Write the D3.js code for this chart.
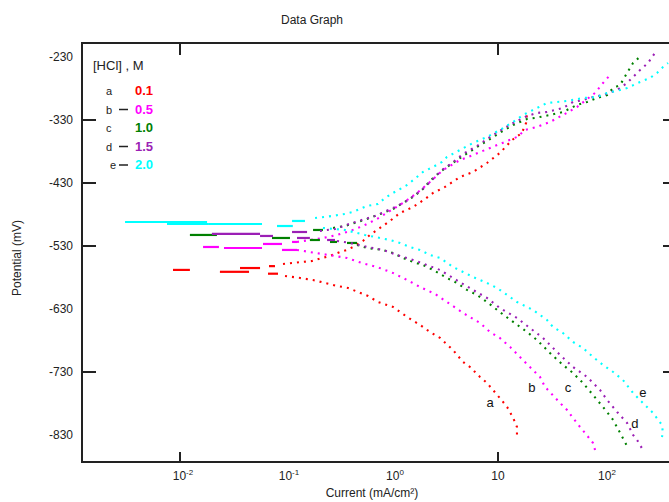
<!DOCTYPE html>
<html>
<head>
<meta charset="utf-8">
<script src="https://cdn.jsdelivr.net/npm/d3@7.9.0/dist/d3.min.js"></script>
<style>
  body { margin: 0; background: #fff; }
  svg { display: block; font-family: "Liberation Sans", Arial, sans-serif; }
</style>
</head>
<body>
<svg id="chart" width="669" height="502"></svg>
<script>
// ---- data: [current mA/cm2, potential mV] ----
// flat pieces near Ecorr: [i1, i2, E]
const aFlat = [[0.00859, 0.0124, -568], [0.0238, 0.0448, -571], [0.0368, 0.0569, -565], [0.0691, 0.0787, -562], [0.0676, 0.0841, -574]];
const aAnodic = [[0.0937, -558.6], [0.142, -555.4], [0.176, -553.8], [0.219, -549], [0.26, -545.9], [0.323, -539.5], [0.376, -536.3], [0.429, -531.6], [0.478, -526.8], [0.532, -522], [0.62, -512.5], [0.771, -501.4], [0.957, -490.3], [1.19, -477.6], [1.58, -468.1], [2.05, -455.4], [2.44, -445.9], [3.16, -436.3], [4.38, -420.5], [5.81, -412.5], [7.87, -398.3], [10.4, -382.4], [13.6, -361.7], [16.8, -350.6], [18.4, -334.8], [18.8, -318.9]];
const aCathodic = [[0.0979, -577.6], [0.136, -580.8], [0.18, -584], [0.233, -588.7], [0.303, -593.4], [0.385, -596.7], [0.478, -603], [0.594, -609.4], [0.738, -618.9], [1.022, -626.8], [1.39, -642.7], [1.84, -655.4], [2.28, -666.5], [2.84, -676], [3.76, -695.1], [4.68, -714.1], [5.44, -722.1], [6.76, -737.9], [7.87, -747.5], [8.97, -758.6], [10.4, -771.3], [12.2, -785.6], [13.9, -803], [15.1, -817.3], [15.1, -830]];

const bFlat = [[0.0165, 0.0233, -531.6], [0.026, 0.0594, -533.2], [0.0607, 0.0917, -526.8], [0.0917, 0.127, -536.3], [0.114, 0.127, -523.6]];
const bAnodic = [[0.127, -523.6], [0.168, -520.5], [0.223, -517.3], [0.303, -512.5], [0.402, -506.2], [0.532, -498.3], [0.722, -487.1], [0.957, -474.4], [1.27, -461.7], [1.72, -445.9], [2.28, -428.4], [3.03, -409.4], [4.38, -393.5], [5.81, -385.6], [8.41, -374.4], [11.6, -364.9], [15.1, -357], [18.0, -345.9], [23.3, -341.1], [30.9, -333.2], [41.0, -322.1], [55.6, -309.4], [82.3, -287.1], [97.9, -271.3], [114, -258.6]];
const bCathodic = [[0.127, -536.3], [0.219, -542.7], [0.376, -549], [0.521, -557], [0.722, -563.3], [1.022, -572.9], [1.39, -584], [1.84, -595.1], [2.55, -606.2], [3.52, -622.1], [4.68, -636.3], [6.76, -652.2], [8.41, -666.5], [10.4, -676], [13.0, -690.3], [16.1, -706.2], [20.0, -722.1], [24.9, -737.9], [27.8, -753.8], [38.5, -779.2], [44.8, -790.3], [51.0, -803], [59.4, -817.3], [66.2, -826.8], [78.8, -842.7], [82.3, -853.8]];

const cFlat = [[0.0124, 0.0223, -512.5], [0.0738, 0.109, -517.3], [0.168, 0.209, -520.5], [0.18, 0.223, -504.6], [0.26, 0.303, -523.6], [0.376, 0.468, -525.2]];
const cAnodic = [[0.278, -501.4], [0.36, -498.3], [0.581, -487.1], [0.822, -477.6], [1.022, -471.3], [1.27, -461.7], [1.58, -452.2], [1.96, -439.5], [2.28, -426.8], [2.84, -412.5], [3.52, -401.4], [4.68, -387.1], [6.34, -372.9], [8.41, -360.2], [11.1, -347.5], [14.5, -336.4], [18.8, -328.4], [22.3, -326.8], [30.9, -322.1], [41.0, -317.3], [55.6, -306.2], [69.2, -301.4], [85.9, -295.1], [107, -290.3], [122, -279.2], [142, -274.4], [165, -255.4], [188, -239.5], [228, -226.8]];
const cCathodic = [[0.468, -528.4], [0.581, -533.2], [0.822, -536.3], [1.022, -541.1], [1.27, -549], [1.58, -555.4], [1.96, -560.2], [2.44, -568.1], [3.3, -580.8], [4.1, -588.7], [5.1, -599.8], [6.34, -607.8], [7.87, -618.9], [10.4, -634.8], [13.9, -650.6], [18.8, -666.5], [23.3, -679.2], [30.9, -699.8], [41.0, -718.9], [51.0, -731.6], [63.4, -747.5], [78.8, -766.5], [97.9, -785.6], [122, -806.2], [142, -826.8], [165, -847.5]];

const dFlat = [[0.02, 0.0569, -510.9], [0.0569, 0.0754, -514.1], [0.114, 0.158, -507.8], [0.127, 0.168, -517.3], [0.244, 0.29, -520.5]];
const dAnodic = [[0.209, -506.2], [0.29, -503], [0.42, -493.5], [0.691, -482.4], [1.022, -469.7], [1.33, -460.1], [1.65, -449.1], [2.05, -436.3], [2.44, -423.7], [2.96, -409.4], [3.68, -398.3], [4.68, -384], [6.34, -371.3], [8.41, -357], [11.1, -344.3], [14.5, -333.2], [18.8, -323.7], [23.3, -318.9], [29.0, -317.3], [41.0, -311], [51.0, -301.4], [63.4, -298.3], [78.8, -293.5], [97.9, -290.3], [133, -282.4], [165, -271.3], [188, -261.7], [219, -250.6], [260, -239.5], [316, -218.9]];
const dCathodic = [[0.303, -522], [0.402, -525.2], [0.581, -531.6], [0.822, -536.3], [1.115, -544.3], [1.58, -552.2], [2.14, -560.2], [2.84, -568.1], [3.76, -580.8], [5.81, -599.8], [7.87, -612.5], [10.4, -628.4], [15.1, -644.3], [20.0, -660.2], [26.6, -676], [38.5, -703], [51.0, -722.1], [69.2, -737.9], [91.7, -758.6], [107, -774.4], [133, -793.5], [165, -810.9], [188, -830], [205, -837.9], [233, -853.8]];

const eFlat = [[0.00303, 0.018, -491.9], [0.00754, 0.0184, -495.1], [0.0184, 0.0594, -495.1], [0.0822, 0.116, -498.3], [0.114, 0.151, -490.3]];
const eAnodic = [[0.188, -485.6], [0.272, -482.4], [0.36, -479.2], [0.429, -476], [0.581, -466.5], [0.738, -463.3], [0.859, -453.8], [1.022, -445.9], [1.39, -433.2], [1.72, -420.5], [1.96, -412.5], [2.44, -404.6], [2.96, -396.7], [3.3, -388.7], [4.38, -377.6], [5.81, -366.5], [7.87, -357], [10.4, -345.9], [13.9, -333.2], [17.2, -322.1], [21.4, -314.1], [29.0, -303], [36.0, -301.4], [44.8, -299.8], [63.4, -295.1], [85.9, -293.5], [107, -287.1], [142, -282.4], [165, -279.2], [219, -269.7], [272, -263.3], [316, -255.4], [360, -245.9], [402, -239.5]];
const eCathodic = [[0.223, -501.4], [0.36, -504.6], [0.556, -512.5], [0.771, -517.3], [0.957, -520.5], [1.19, -525.2], [1.48, -531.6], [1.84, -536.3], [2.28, -544.3], [2.84, -549], [3.76, -563.3], [4.68, -571.3], [5.81, -579.2], [7.87, -588.7], [9.79, -596.7], [12.2, -607.8], [15.1, -618.9], [18.8, -626.8], [21.4, -631.6], [29.0, -647.5], [33.0, -658.6], [41.0, -668.1], [51.0, -682.4], [63.4, -691.9], [78.8, -706.2], [97.9, -718.9], [122, -730], [151, -742.7], [188, -763.3], [233, -779.2], [290, -795.1], [352, -814.1], [360, -826.8], [352, -833.2]];

const keys = ['a', 'b', 'c', 'd', 'e'];
const concentrations = ['0.1', '0.5', '1.0', '1.5', '2.0'];
const colors = ['#ff0000', '#ff00ff', '#008000', '#9b1fb5', '#00ffff'];
const curveLabels = [['a', 8.41, -779], ['b', 20.9, -755], ['c', 45.7, -754], ['d', 196, -811], ['e', 233, -762]];

const yTicks = [-230, -330, -430, -530, -630, -730, -830];
const yTickMarks = [-330, -430, -530, -730];
const xTicks = [0.01, 0.1, 1, 10, 100];
const xTickSup = ['-2', '-1', '0', '', '2'];
const xTickMarks = [0.01, 10];

const series = keys.map((k, i) => ({
  key: k, conc: concentrations[i], color: colors[i],
  flat: [aFlat, bFlat, cFlat, dFlat, eFlat][i],
  anodic: [aAnodic, bAnodic, cAnodic, dAnodic, eAnodic][i],
  cathodic: [aCathodic, bCathodic, cCathodic, dCathodic, eCathodic][i]
}));

// ---- layout ----
const plotL = 82, plotR = 677, plotT = 43, plotB = 462;
const svg = d3.select('#chart');

const x = d3.scaleLog()
  .domain([Math.pow(10, -2 - 98 / 106), Math.pow(10, -2 + (plotR - 180) / 106)])
  .range([plotL, plotR]);
const y = d3.scaleLinear().domain([-872.9, -207.8]).range([plotB, plotT]);

const line = d3.line().x(d => x(d[0])).y(d => y(d[1]));

// curves
const g = svg.append('g');
series.forEach(s => {
  g.selectAll(null).data(s.flat).join('line')
    .attr('x1', d => x(d[0])).attr('x2', d => x(d[1]))
    .attr('y1', d => y(d[2])).attr('y2', d => y(d[2]))
    .attr('stroke', s.color).attr('stroke-width', 2.2);
  [s.anodic, s.cathodic].forEach(branch => {
    g.append('path').datum(branch)
      .attr('d', line)
      .attr('fill', 'none')
      .attr('stroke', s.color)
      .attr('stroke-width', 2.1)
      .attr('stroke-dasharray', '2,5');
  });
});

// curve letters
svg.selectAll('.clab').data(curveLabels).join('text')
  .attr('x', d => x(d[1])).attr('y', d => y(d[2]))
  .attr('text-anchor', 'middle').attr('dominant-baseline', 'central')
  .attr('font-size', 13).attr('fill', '#111')
  .text(d => d[0]);

// frame
svg.append('rect')
  .attr('x', plotL).attr('y', plotT)
  .attr('width', plotR - plotL).attr('height', plotB - plotT)
  .attr('fill', 'none').attr('stroke', '#222').attr('stroke-width', 2);

// tick marks (inward)
yTickMarks.forEach(v => {
  svg.append('line').attr('x1', plotL).attr('x2', plotL + 14).attr('y1', y(v)).attr('y2', y(v))
    .attr('stroke', '#222').attr('stroke-width', 2);
  svg.append('line').attr('x1', plotR).attr('x2', plotR - 14).attr('y1', y(v)).attr('y2', y(v))
    .attr('stroke', '#222').attr('stroke-width', 2);
});
xTickMarks.forEach(v => {
  svg.append('line').attr('x1', x(v)).attr('x2', x(v)).attr('y1', plotB).attr('y2', plotB - 10)
    .attr('stroke', '#222').attr('stroke-width', 2);
  svg.append('line').attr('x1', x(v)).attr('x2', x(v)).attr('y1', plotT).attr('y2', plotT + 12)
    .attr('stroke', '#222').attr('stroke-width', 2);
});

// tick labels
svg.selectAll('.ylab').data(yTicks).join('text')
  .attr('x', 73).attr('y', d => y(d)).attr('dy', '0.35em')
  .attr('text-anchor', 'end').attr('font-size', 12).attr('fill', '#222')
  .text(d => d);

const xl = svg.selectAll('.xlab').data(xTicks).join('text')
  .attr('x', (d, i) => x(d) + (xTickSup[i] ? 3 : 0)).attr('y', 480)
  .attr('text-anchor', 'middle').attr('font-size', 12).attr('fill', '#222');
xl.append('tspan').text('10');
xl.append('tspan').attr('dy', -5).attr('font-size', 8).text((d, i) => xTickSup[i]);

// titles
svg.append('text').attr('x', 312).attr('y', 24).attr('text-anchor', 'middle')
  .attr('font-size', 12).attr('fill', '#222').text('Data Graph');
svg.append('text').attr('x', 372).attr('y', 497).attr('text-anchor', 'middle')
  .attr('font-size', 12).attr('fill', '#222').text('Current (mA/cm²)');
svg.append('text').attr('transform', 'translate(21,258) rotate(-90)').attr('text-anchor', 'middle')
  .attr('font-size', 12).attr('fill', '#222').text('Potential (mV)');

// legend
const leg = svg.append('g').attr('font-size', 13);
leg.append('text').attr('x', 93).attr('y', 70).attr('fill', '#222').text('[HCl] , M');
series.forEach((s, i) => {
  const yy = 95 + i * 18.5;
  leg.append('text').attr('x', i === 4 ? 110 : 106).attr('y', yy).attr('fill', '#222').attr('font-size', 11).text(s.key);
  if (i % 2 === 1 || i === 4) {
    leg.append('line').attr('x1', 119).attr('x2', 128).attr('y1', yy - 4).attr('y2', yy - 4)
      .attr('stroke', '#222').attr('stroke-width', 1.5);
  }
  leg.append('text').attr('x', 135).attr('y', yy).attr('fill', s.color).attr('font-weight', 'bold').text(s.conc);
});
</script>
</body>
</html>
